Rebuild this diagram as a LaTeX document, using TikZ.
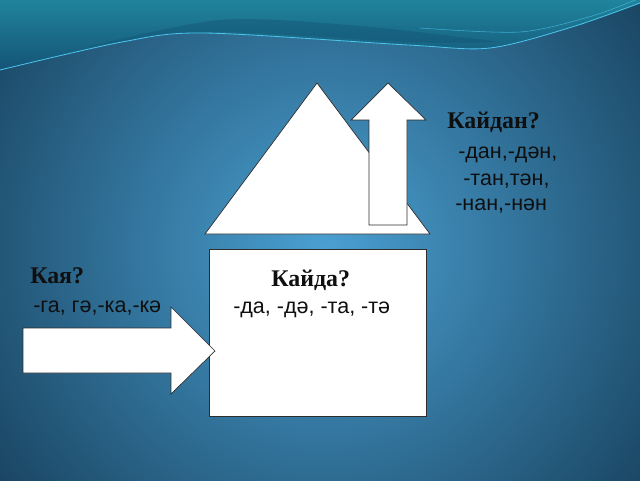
\documentclass[tikz,border=0pt]{standalone}
\usepackage{fontspec}
\setmainfont{Liberation Serif}
\newfontfamily\sufxfont{Liberation Sans}
\definecolor{bgin}{RGB}{74,160,210}
\definecolor{bgout}{RGB}{9,38,60}
\definecolor{bandtop}{RGB}{32,132,156}
\definecolor{bandbot}{RGB}{20,84,118}
\definecolor{waveline}{RGB}{75,195,235}
\definecolor{edge}{RGB}{45,45,45}
\definecolor{ink}{RGB}{15,15,15}
\tikzset{
  block/.style={fill=white,draw=edge,line width=0.5pt,line join=miter},
  ask/.style={font=\fontsize{17}{20}\selectfont\bfseries,text=ink,
    inner sep=0pt,anchor=base west},
  sufx/.style={font=\sufxfont\fontsize{15.3}{18}\selectfont,text=ink,
    inner sep=0pt,anchor=base west}
}
\begin{document}
\begin{tikzpicture}
    \useasboundingbox (0,0) rectangle (16,12);
    \begin{scope}
      \clip (0,0) rectangle (16,12);
      \shade[inner color=bgin,outer color=bgout] (8.1,5.8) circle (13.5);
      \shade[top color=bandtop,bottom color=bandbot] (0,12) --
      plot[smooth] coordinates {(0,10.25) (3.05,10.95) (5.1,11.175)
        (10.2,10.875) (12.25,10.8) (14.3,11.325) (16,11.925)}
      -- (16,12) -- cycle;
      \fill[bandbot,opacity=0.45] plot[smooth] coordinates {(2,10.78)
        (5.5,11.5) (9,11.35) (12.5,10.95)} -- plot[smooth] coordinates
        {(12.5,10.95) (10.2,10.95) (5.1,11.2) (2,10.78)} -- cycle;
      \draw[waveline,line width=0.6pt] plot[smooth] coordinates
      {(0,10.25) (3.05,10.95) (5.1,11.175) (10.2,10.875) (12.25,10.8)
        (14.3,11.325) (16,11.925)};
      \draw[waveline,line width=0.4pt,opacity=0.7] plot[smooth]
      coordinates {(10.5,11.3) (13,11.2) (14.8,11.6) (16,12.05)};
    \end{scope}
    \draw[block] (7.925,9.925) -- (5.125,6.15) -- (10.75,6.15) -- cycle;
    \draw[block] (9.7,9.925) -- (10.65,9) -- (10.175,9) -- (10.175,6.375)
    -- (9.225,6.375) -- (9.225,9) -- (8.775,9) -- cycle;
    \draw[block] (5.225,5.775) rectangle (10.65,1.6);
    \draw[block] (5.375,3.225) -- (4.275,4.325) -- (4.275,3.8) --
    (0.575,3.8) -- (0.575,2.675) -- (4.275,2.675) -- (4.275,2.15) -- cycle;
    \node[ask] (kaydan) at (11.175,8.8) {Кайдан?};
    \node[sufx] (dan) at (11.45,8.05) {-дан,-дән,};
    \node[sufx] (tan) at (11.575,7.375) {-тан,тән,};
    \node[sufx] (nan) at (11.375,6.75) {-нан,-нән};
    \node[ask] (kaya) at (0.75,4.925) {Кая?};
    \node[sufx] (ga) at (0.825,4.2) {-га, гә,-ка,-кә};
    \node[ask] (kayda) at (6.775,4.85) {Кайда?};
    \node[sufx] (da) at (5.825,4.175) {-да, -дә, -та, -тә};
  \end{tikzpicture}
\end{document}
